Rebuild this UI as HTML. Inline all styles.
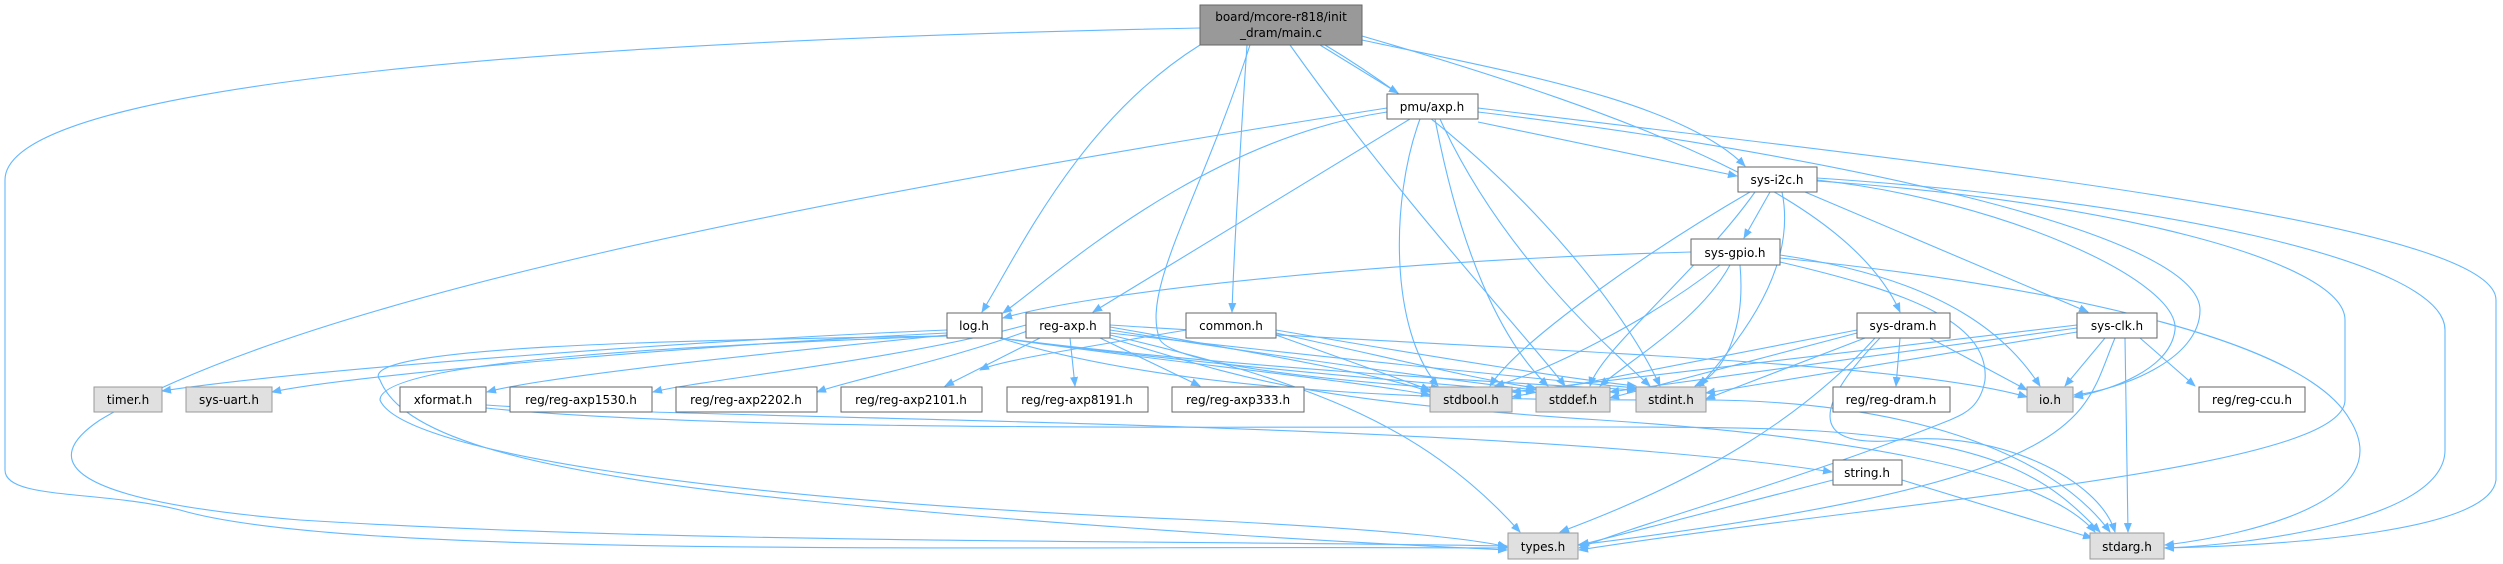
<!DOCTYPE html>
<html><head><meta charset="utf-8"><style>
html,body{margin:0;padding:0;background:#fff;}
svg{display:block;}
text{font-family:"DejaVu Sans","Liberation Sans",sans-serif;font-size:12px;fill:#000;}
.e{fill:none;stroke:#63b8ff;stroke-width:1.1;}
.n{fill:#fff;stroke:#666;stroke-width:1;}
.g{fill:#e0e0e0;stroke:#999;stroke-width:1;}
</style></head><body>
<svg width="2503" height="564" viewBox="0 0 2503 564" xmlns="http://www.w3.org/2000/svg">
<defs><marker id="a" markerWidth="10" markerHeight="10" refX="9" refY="5" orient="auto" markerUnits="userSpaceOnUse"><path d="M0,1 L10,5 L0,9 z" fill="#63b8ff"/></marker></defs>
<g class="e" marker-end="url(#a)">
<!-- main -->
<path d="M1200,28 C600,40 5,80 5,180 L5,470 C5,500 100,490 180,510 C350,560 1000,545 1507,548"/>
<path d="M1200,45 C1080,120 1020,250 982,312"/>
<path d="M1250,45 C1200,200 1140,290 1160,340 C1180,370 1400,385 1440,388"/>
<path d="M1247,45 C1240,150 1234,250 1232,312"/>
<path d="M1320,45 L1398,93"/>
<path d="M1290,45 C1400,200 1530,340 1565,386"/>
<path d="M1325,45 C1500,150 1620,300 1660,386"/>
<path d="M1362,40 C1500,70 1680,100 1745,166"/>
<path d="M1362,36 C1650,120 1850,200 1900,312"/>
<!-- pmu -->
<path d="M1387,108 C800,200 300,300 100,420 C40,460 60,500 300,520 C700,545 1200,540 1507,546"/>
<path d="M1387,112 C1200,140 1050,280 1003,313"/>
<path d="M1410,119 L1093,312"/>
<path d="M1420,119 C1390,200 1390,330 1438,386"/>
<path d="M1435,119 C1460,250 1500,340 1548,386"/>
<path d="M1440,119 C1500,250 1600,340 1650,386"/>
<path d="M1478,122 L1737,176"/>
<path d="M1478,112 C1800,150 2200,230 2200,310 C2200,360 2120,390 2074,395"/>
<path d="M1478,108 C1900,160 2496,220 2496,300 L2496,480 C2490,530 2300,545 2165,548"/>
<!-- sys-i2c -->
<path d="M1770,192 L1744,238"/>
<path d="M1805,192 L2088,312"/>
<path d="M1750,192 C1650,250 1520,340 1490,386"/>
<path d="M1755,192 C1700,270 1600,350 1590,386"/>
<path d="M1782,192 C1800,280 1720,360 1700,386"/>
<path d="M1817,180 C2000,200 2180,280 2175,330 C2170,370 2110,390 2074,397"/>
<path d="M1817,181 C2100,200 2345,260 2345,320 L2345,400 C2345,470 1900,500 1579,550"/>
<path d="M1817,178 C2150,200 2445,260 2445,330 L2445,450 C2445,520 2250,545 2165,548"/>
<!-- sys-gpio -->
<path d="M1691,252 C1400,260 1100,290 1003,318"/>
<path d="M1720,265 C1650,320 1550,370 1495,386"/>
<path d="M1730,265 C1700,320 1630,360 1600,386"/>
<path d="M1740,265 C1745,320 1730,370 1695,386"/>
<path d="M1780,255 C1950,280 2010,340 2040,386"/>
<path d="M1780,262 C1900,290 1990,320 1985,380 C1980,410 1960,415 1950,420 C1800,480 1650,520 1579,548"/>
<path d="M1780,258 C2000,280 2300,330 2350,420 C2400,500 2250,535 2165,545"/>
<!-- log -->
<path d="M947,330 C700,340 300,370 162,391"/>
<path d="M947,333 C700,345 350,375 272,392"/>
<path d="M947,335 C800,350 550,375 487,392"/>
<path d="M1000,338 C1150,360 1350,380 1430,395"/>
<path d="M1000,338 C1200,365 1450,385 1535,392"/>
<path d="M1000,338 C1250,370 1550,385 1636,390"/>
<path d="M947,336 C700,340 350,345 380,380 C400,430 500,470 800,500 C1100,530 1400,545 1507,550"/>
<path d="M947,336 C700,345 380,360 380,400 C400,450 700,500 1200,520 C1400,530 1480,540 1507,547"/>
<path d="M1000,338 C1200,400 1500,400 1700,400 C1900,400 2050,450 2110,532"/>
<!-- xformat -->
<path d="M486,405 C700,420 1500,420 1832,472"/>
<path d="M486,408 C800,440 1600,420 1800,430 C2000,440 2050,480 2100,532"/>
<!-- reg-axp -->
<path d="M1026,325 C900,360 700,380 653,392"/>
<path d="M1030,330 C950,360 850,380 817,392"/>
<path d="M1040,338 L945,386"/>
<path d="M1070,338 L1075,386"/>
<path d="M1100,338 L1200,386"/>
<path d="M1110,327 C1300,360 1400,380 1430,392"/>
<path d="M1110,330 C1300,360 1450,380 1535,390"/>
<path d="M1110,333 C1350,360 1550,380 1636,388"/>
<path d="M1110,335 C1300,380 1420,420 1520,532"/>
<path d="M1110,325 C1500,350 1900,360 2027,397"/>
<path d="M1110,338 C1250,380 1300,400 1600,420 C1900,440 2050,480 2095,532"/>
<!-- common -->
<path d="M1276,335 L1430,390"/>
<path d="M1276,333 C1400,360 1480,380 1536,388"/>
<path d="M1276,330 C1450,360 1580,380 1636,386"/>
<path d="M1186,330 C1100,345 1000,360 980,370"/>
<!-- sys-dram -->
<path d="M1857,330 L1512,397"/>
<path d="M1857,333 L1610,398"/>
<path d="M1865,338 L1706,399"/>
<path d="M1900,338 L1896,386"/>
<path d="M1930,338 L2027,390"/>
<path d="M1875,338 C1800,420 1700,480 1560,532"/>
<path d="M1880,338 C1820,400 1800,450 1900,440 C2000,430 2100,480 2115,532"/>
<!-- sys-clk -->
<path d="M2077,325 L1512,392"/>
<path d="M2077,328 L1610,392"/>
<path d="M2077,332 L1706,393"/>
<path d="M2105,338 L2065,386"/>
<path d="M2140,338 L2195,386"/>
<path d="M2125,338 L2128,532"/>
<path d="M2115,338 C2080,420 2100,480 1578,545"/>
<!-- string -->
<path d="M1833,480 L1580,545"/>
<path d="M1902,480 L2092,538"/>
</g>
<g>
<rect class="n" x="1200" y="5" width="162" height="40" style="fill:#999"/>
<text x="1281" y="21" text-anchor="middle">board/mcore-r818/init</text>
<text x="1281" y="37" text-anchor="middle">_dram/main.c</text>
<rect class="n" x="1387" y="94" width="91" height="25"/><text x="1432" y="111" text-anchor="middle">pmu/axp.h</text>
<rect class="n" x="1738" y="167" width="79" height="25"/><text x="1777" y="184" text-anchor="middle">sys-i2c.h</text>
<rect class="n" x="1691" y="239" width="89" height="26"/><text x="1735" y="257" text-anchor="middle">sys-gpio.h</text>
<rect class="n" x="947" y="313" width="55" height="25"/><text x="974" y="330" text-anchor="middle">log.h</text>
<rect class="n" x="1026" y="313" width="84" height="25"/><text x="1068" y="330" text-anchor="middle">reg-axp.h</text>
<rect class="n" x="1186" y="313" width="90" height="25"/><text x="1231" y="330" text-anchor="middle">common.h</text>
<rect class="n" x="1857" y="313" width="93" height="25"/><text x="1903" y="330" text-anchor="middle">sys-dram.h</text>
<rect class="n" x="2077" y="313" width="80" height="25"/><text x="2117" y="330" text-anchor="middle">sys-clk.h</text>
<rect class="g" x="94" y="387" width="68" height="25"/><text x="128" y="404" text-anchor="middle">timer.h</text>
<rect class="g" x="186" y="387" width="86" height="25"/><text x="229" y="404" text-anchor="middle">sys-uart.h</text>
<rect class="n" x="400" y="387" width="86" height="25"/><text x="443" y="404" text-anchor="middle">xformat.h</text>
<rect class="n" x="510" y="387" width="142" height="25"/><text x="581" y="404" text-anchor="middle">reg/reg-axp1530.h</text>
<rect class="n" x="676" y="387" width="141" height="25"/><text x="746" y="404" text-anchor="middle">reg/reg-axp2202.h</text>
<rect class="n" x="841" y="387" width="141" height="25"/><text x="911" y="404" text-anchor="middle">reg/reg-axp2101.h</text>
<rect class="n" x="1007" y="387" width="141" height="25"/><text x="1077" y="404" text-anchor="middle">reg/reg-axp8191.h</text>
<rect class="n" x="1172" y="387" width="132" height="25"/><text x="1238" y="404" text-anchor="middle">reg/reg-axp333.h</text>
<rect class="g" x="1430" y="387" width="82" height="25"/><text x="1471" y="404" text-anchor="middle">stdbool.h</text>
<rect class="g" x="1536" y="387" width="74" height="25"/><text x="1573" y="404" text-anchor="middle">stddef.h</text>
<rect class="g" x="1636" y="387" width="70" height="25"/><text x="1671" y="404" text-anchor="middle">stdint.h</text>
<rect class="n" x="1833" y="387" width="117" height="25"/><text x="1891" y="404" text-anchor="middle">reg/reg-dram.h</text>
<rect class="g" x="2027" y="387" width="46" height="25"/><text x="2050" y="404" text-anchor="middle">io.h</text>
<rect class="n" x="2199" y="387" width="106" height="25"/><text x="2252" y="404" text-anchor="middle">reg/reg-ccu.h</text>
<rect class="n" x="1833" y="460" width="69" height="25"/><text x="1867" y="477" text-anchor="middle">string.h</text>
<rect class="g" x="1508" y="533" width="70" height="26"/><text x="1543" y="551" text-anchor="middle">types.h</text>
<rect class="g" x="2090" y="533" width="74" height="26"/><text x="2127" y="551" text-anchor="middle">stdarg.h</text>
</g>
</svg>
</body></html>
